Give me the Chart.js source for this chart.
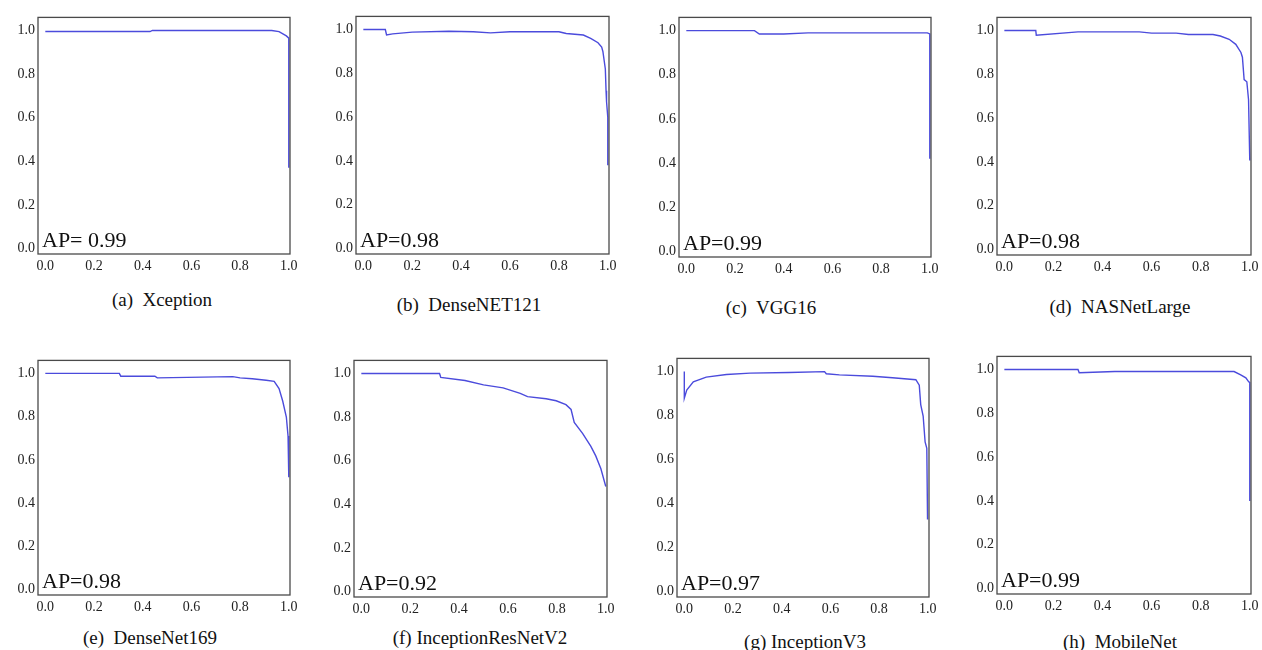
<!DOCTYPE html>
<html>
<head>
<meta charset="utf-8">
<script src="https://cdn.jsdelivr.net/npm/chart.js@4.4.1/dist/chart.umd.min.js"></script>
<style>
  body { margin: 0; background: #fff; width: 1262px; height: 650px; position: relative; overflow: hidden; }
  .panel { position: absolute; }
  .caption { position: absolute; font-family: "Liberation Serif", "Times New Roman", serif; font-size: 19px; color: #111;
             white-space: pre; transform: translate(-50%, -50%); }
</style>
</head>
<body>
<script>
// precision-recall curves
const recallA = [0, 0.43, 0.44, 0.93, 0.96, 0.99, 1.0, 1.0];
const precisionA = [0.995, 0.995, 1.0, 1.0, 0.995, 0.975, 0.965, 0.37];

const recallB = [0, 0.09, 0.095, 0.12, 0.2, 0.35, 0.45, 0.52, 0.6, 0.8, 0.83, 0.9, 0.93, 0.96, 0.975, 0.98, 0.99, 0.993, 0.995, 1.0, 1.0];
const precisionB = [1.0, 1.0, 0.975, 0.98, 0.988, 0.992, 0.99, 0.985, 0.99, 0.99, 0.982, 0.975, 0.96, 0.94, 0.92, 0.90, 0.82, 0.72, 0.67, 0.6, 0.38];

const recallC = [0, 0.28, 0.3, 0.4, 0.5, 0.99, 1.0, 1.0];
const precisionC = [1.0, 1.0, 0.985, 0.985, 0.99, 0.99, 0.985, 0.42];

const recallD = [0, 0.128, 0.13, 0.3, 0.55, 0.6, 0.7, 0.75, 0.85, 0.88, 0.916, 0.943, 0.964, 0.97, 0.977, 0.988, 0.995, 1.0];
const precisionD = [1.0, 1.0, 0.979, 0.994, 0.994, 0.988, 0.988, 0.982, 0.982, 0.975, 0.96, 0.937, 0.9, 0.878, 0.776, 0.766, 0.684, 0.407];

const recallE = [0, 0.304, 0.31, 0.45, 0.46, 0.77, 0.8, 0.85, 0.907, 0.94, 0.96, 0.975, 0.99, 0.997, 1.0];
const precisionE = [1.0, 1.0, 0.987, 0.987, 0.979, 0.985, 0.979, 0.975, 0.968, 0.963, 0.93, 0.872, 0.798, 0.71, 0.52];

const recallF = [0, 0.32, 0.325, 0.424, 0.5, 0.58, 0.65, 0.68, 0.756, 0.797, 0.837, 0.858, 0.871, 0.905, 0.939, 0.959, 0.98, 1.0];
const precisionF = [1.0, 1.0, 0.982, 0.968, 0.948, 0.934, 0.909, 0.894, 0.884, 0.875, 0.857, 0.835, 0.776, 0.725, 0.666, 0.622, 0.563, 0.482];

const recallG = [0, 0, 0.01, 0.037, 0.09, 0.173, 0.27, 0.43, 0.576, 0.583, 0.637, 0.774, 0.855, 0.951, 0.965, 0.971, 0.981, 0.989, 0.996, 0.999];
const precisionG = [1.0, 0.879, 0.916, 0.953, 0.975, 0.987, 0.993, 0.996, 1.0, 0.99, 0.985, 0.979, 0.972, 0.963, 0.938, 0.85, 0.798, 0.68, 0.651, 0.327];

const recallH = [0, 0.30, 0.305, 0.45, 0.936, 0.963, 0.984, 0.995, 1.0, 1.0];
const precisionH = [1.0, 1.0, 0.985, 0.991, 0.991, 0.976, 0.962, 0.945, 0.94, 0.40];

const captions = ['(a)  Xception', '(b)  DenseNET121', '(c)  VGG16', '(d)  NASNetLarge',
                  '(e)  DenseNet169', '(f) InceptionResNetV2', '(g) InceptionV3', '(h)  MobileNet'];
const apLabels = ['AP= 0.99', 'AP=0.98', 'AP=0.99', 'AP=0.98', 'AP=0.98', 'AP=0.92', 'AP=0.97', 'AP=0.99'];
const tickValues = [0, 0.2, 0.4, 0.6, 0.8, 1.0];

const recalls = [recallA, recallB, recallC, recallD, recallE, recallF, recallG, recallH];
const precisions = [precisionA, precisionB, precisionC, precisionD, precisionE, precisionF, precisionG, precisionH];

// plot box in page pixels: left, top, right, bottom ; caption centre x, y
const boxes = [
  [38, 14, 290, 254, 162, 300], [356, 13, 609, 254, 469, 305],
  [679, 14, 931, 257, 771, 308], [997, 14, 1251, 255, 1120, 307],
  [38, 357, 290, 595, 150, 638], [354, 357, 607, 597, 480, 638],
  [677, 355, 929, 597, 805, 642], [997, 353, 1251, 594, 1120, 642]
];

const PAD_L = 40, PAD_T = 8, PAD_R = 12, PAD_B = 24;
const SERIF = '"Liberation Serif", "Times New Roman", serif';

// frame + AP text
const framePlugin = {
  id: 'frame',
  afterDatasetsDraw(chart, args, opts) {
    const a = chart.chartArea, ctx = chart.ctx;
    ctx.save();
    ctx.strokeStyle = '#4a4a4a';
    ctx.lineWidth = 1.3;
    ctx.strokeRect(a.left, a.top, a.right - a.left, a.bottom - a.top);
    ctx.fillStyle = '#111';
    ctx.font = '22px ' + SERIF;
    ctx.textBaseline = 'alphabetic';
    ctx.fillText(opts.text, a.left + 4, a.bottom - 7);
    ctx.restore();
  }
};

function drawAll() {
  for (let i = 0; i < 8; i++) {
    const b = boxes[i];
    const w = b[2] - b[0] + PAD_L + PAD_R;
    const h = b[3] - b[1] + PAD_T + PAD_B;
    const div = document.createElement('div');
    div.className = 'panel';
    div.style.left = (b[0] - PAD_L) + 'px';
    div.style.top = (b[1] - PAD_T) + 'px';
    div.innerHTML = '<canvas width="' + w + '" height="' + h + '"></canvas>';
    document.body.appendChild(div);

    const cap = document.createElement('div');
    cap.className = 'caption';
    cap.style.left = b[4] + 'px';
    cap.style.top = b[5] + 'px';
    cap.textContent = captions[i];
    document.body.appendChild(cap);

    const pts = recalls[i].map((r, k) => ({ x: r, y: precisions[i][k] }));
    const tickFont = { family: SERIF, size: 14 };

    new Chart(div.querySelector('canvas'), {
      type: 'scatter',
      data: {
        datasets: [{
          data: pts,
          showLine: true,
          borderColor: '#4b4bdc',
          borderWidth: 1.4,
          pointRadius: 0,
          fill: false,
          tension: 0
        }]
      },
      options: {
        responsive: false,
        animation: false,
        events: [],
        layout: { padding: { left: 0, top: PAD_T, right: PAD_R, bottom: 0 } },
        plugins: {
          legend: { display: false },
          tooltip: { enabled: false },
          frame: { text: apLabels[i] }
        },
        scales: {
          x: {
            type: 'linear', min: -0.03, max: 1.005,
            grid: { display: false, drawTicks: false },
            border: { display: false },
            afterBuildTicks: s => { s.ticks = tickValues.map(v => ({ value: v })); },
            afterFit: s => { s.height = PAD_B; },
            ticks: { font: tickFont, color: '#222', padding: 4, maxRotation: 0,
                     callback: v => Number(v).toFixed(1) }
          },
          y: {
            type: 'linear', min: -0.025, max: 1.06,
            grid: { display: false, drawTicks: false },
            border: { display: false },
            afterBuildTicks: s => { s.ticks = tickValues.map(v => ({ value: v })); },
            afterFit: s => { s.width = PAD_L; },
            ticks: { font: tickFont, color: '#222', padding: 3,
                     callback: v => Number(v).toFixed(1) }
          }
        }
      },
      plugins: [framePlugin]
    });
  }
}

Promise.all([
  document.fonts.load('14px "Liberation Serif"'),
  document.fonts.load('22px "Liberation Serif"')
]).then(drawAll, drawAll);
</script>
</body>
</html>
